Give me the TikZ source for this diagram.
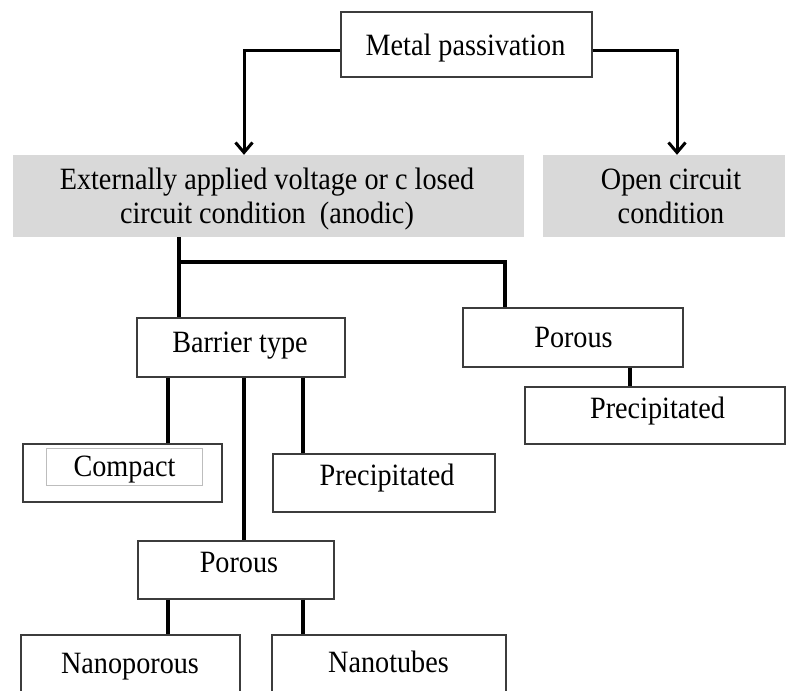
\documentclass[tikz,border=0pt]{standalone}
\usepackage{fontspec}
\setmainfont[FakeStretch=0.91]{Liberation Serif}
\usetikzlibrary{arrows.meta}
\definecolor{boxline}{HTML}{3C3C3C}
\definecolor{grayfill}{HTML}{D9D9D9}
\definecolor{innerline}{HTML}{BDBDBD}
\begin{document}
\begin{tikzpicture}[x=1pt,y=-1pt,
  box/.style={draw=boxline, line width=1.1pt, fill=white, inner sep=0pt},
  graybox/.style={fill=grayfill, draw=none, inner sep=0pt},
  txt/.style={anchor=base, inner sep=0pt, font=\fontsize{31}{36}\selectfont},
  conn/.style={line width=4.5pt, black},
  branch/.style={line width=3.5pt, black, line join=miter},
  arr/.style={line width=3pt, black, line join=miter, -{Straight Barb[length=10pt,width=17pt]}}]
\useasboundingbox (0,0) rectangle (788,691);
\clip (0,0) rectangle (788,691);
\fill[white] (0,0) rectangle (788,691);

% boxes
\node[box, minimum width=251pt, minimum height=65pt] (metal) at (466.5,44.5) {};
\node[graybox, minimum width=511pt, minimum height=82pt] (extL) at (268.5,196) {};
\node[graybox, minimum width=242pt, minimum height=82pt] (openc) at (664,196) {};
\node[box, minimum width=208pt, minimum height=59pt] (barrier) at (241,347.5) {};
\node[box, minimum width=220pt, minimum height=59pt] (porR) at (573,337.5) {};
\node[box, minimum width=260pt, minimum height=57pt] (precR) at (655,415.5) {};
\node[box, minimum width=199pt, minimum height=58pt] (compact) at (122.5,473) {};
\node[draw=innerline, line width=0.7pt, inner sep=0pt, minimum width=156pt, minimum height=37pt] (compactin) at (124,466.5) {};
\node[box, minimum width=222pt, minimum height=58pt] (precL) at (384,483) {};
\node[box, minimum width=196pt, minimum height=58pt] (porM) at (236,570) {};
\node[box, minimum width=219pt, minimum height=75pt] (nanoP) at (130.5,672.5) {};
\node[box, minimum width=234pt, minimum height=75pt] (nanoT) at (389,672.5) {};

% texts
\node[txt] (metal-t) at (465.5,55) {Metal passivation};
\node[txt] (extL-t1) at (267,189) {Externally applied voltage or c losed};
\node[txt] (extL-t2) at (267,223) {circuit condition\ \ (anodic)};
\node[txt] (openc-t1) at (671,189) {Open circuit};
\node[txt] (openc-t2) at (671,223) {condition};
\node[txt] (barrier-t) at (240,352) {Barrier type};
\node[txt] (porR-t) at (573.5,347) {Porous};
\node[txt] (precR-t) at (657.5,418) {Precipitated};
\node[txt] (compact-t) at (124.5,476) {Compact};
\node[txt] (precL-t) at (387,485) {Precipitated};
\node[txt] (porM-t) at (239,572) {Porous};
\node[txt] (nanoP-t) at (130,673) {Nanoporous};
\node[txt] (nanoT-t) at (388.5,672) {Nanotubes};

% connectors
\draw[arr] ([yshift=-5.5pt]metal.west) -| ([xshift=-24.5pt]extL.north);
\draw[arr] ([yshift=-5.5pt]metal.east) -| ([xshift=13pt]openc.north);

\draw[conn] ([xshift=-89.5pt]extL.south) -- ([xshift=-62pt]barrier.north);
\coordinate (br) at (179,262);
\draw[branch] (br) -| ([xshift=-68pt]porR.north);

\draw[conn] ([xshift=-73pt]barrier.south) -- ([xshift=-73pt]barrier.south |- compact.north);
\draw[conn] ([xshift=3pt]barrier.south) -- ([xshift=3pt]barrier.south |- porM.north);
\draw[conn] ([xshift=62pt]barrier.south) -- ([xshift=62pt]barrier.south |- precL.north);

\draw[conn] ([xshift=57pt]porR.south) -- ([xshift=57pt]porR.south |- precR.north);

\draw[conn] ([xshift=-68pt]porM.south) -- ([xshift=-68pt]porM.south |- nanoP.north);
\draw[conn] ([xshift=67pt]porM.south) -- ([xshift=67pt]porM.south |- nanoT.north);
\end{tikzpicture}
\end{document}
